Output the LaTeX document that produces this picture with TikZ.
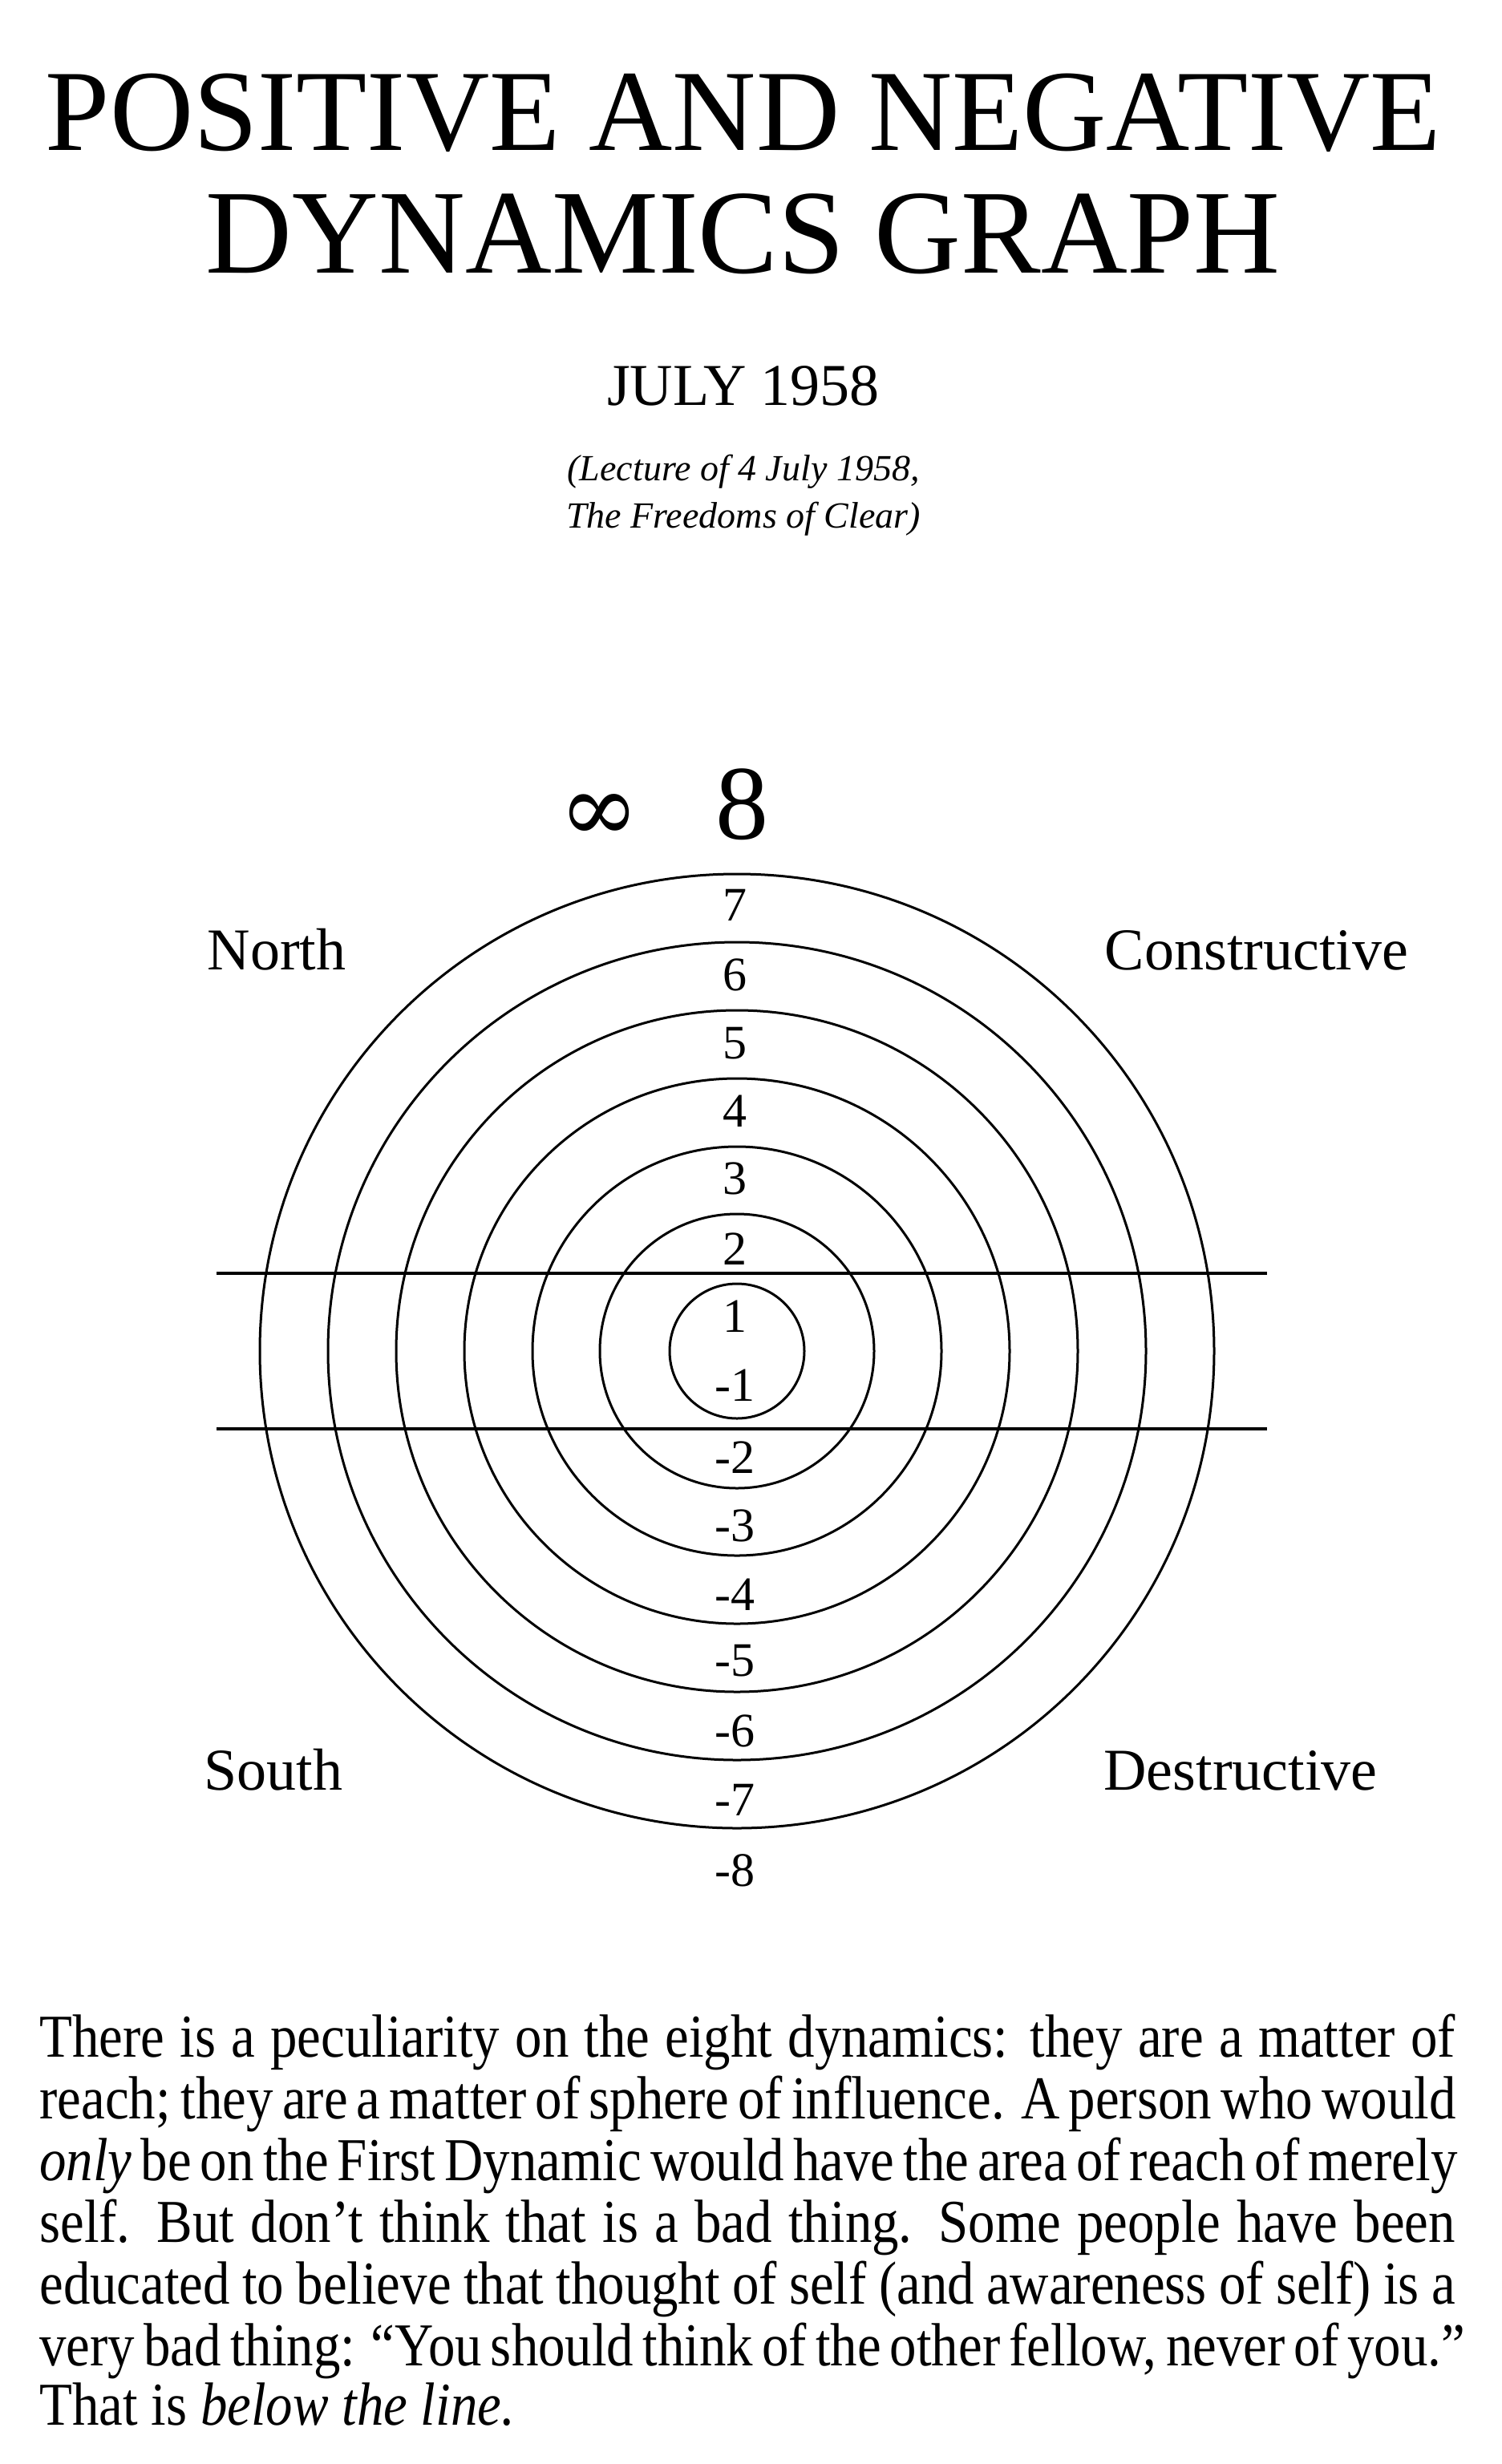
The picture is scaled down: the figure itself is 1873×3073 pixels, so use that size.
\documentclass[tikz,border=0pt]{standalone}
\usepackage{fontspec}
\usepackage{graphicx}
\setmainfont{Liberation Serif}
\newfontfamily\symf{DejaVu Serif}
\newcommand{\pline}[1]{\scalebox{0.88}[1]{\makebox[1003pt][s]{#1}}}
\begin{document}
\begin{tikzpicture}[x=0.5pt,y=-0.5pt,
  ring/.style={line width=1.5pt},
  hline/.style={line width=2pt},
  num/.style={font=\fontsize{30}{32}\selectfont, anchor=mid, inner sep=0},
  corner/.style={font=\fontsize{37}{40}\selectfont, anchor=mid, inner sep=0},
  para/.style={font=\fontsize{38}{40}\selectfont, anchor=base west, inner sep=0}]
\useasboundingbox (0,0) rectangle (1873,3073);
\node[inner sep=0, anchor=mid] (t1) at (927,183) {\resizebox{870pt}{!}{\fontsize{80}{84}\selectfont POSITIVE AND NEGATIVE}};
\node[inner sep=0, anchor=mid] (t2) at (927,336) {\resizebox{670pt}{!}{\fontsize{80}{84}\selectfont DYNAMICS GRAPH}};
\node[inner sep=0, anchor=mid, font=\fontsize{37}{40}\selectfont] (date) at (927,501) {JULY 1958};
\node[inner sep=0, anchor=mid, font=\fontsize{23}{26}\itshape] (s1) at (927,595) {(Lecture of 4 July 1958,};
\node[inner sep=0, anchor=mid, font=\fontsize{23}{26}\itshape] (s2) at (927,654) {The Freedoms of Clear)};
\node[inner sep=0, anchor=mid, font=\symf\fontsize{60}{62}\selectfont] (inf) at (747,1045) {∞};
\node[inner sep=0, anchor=mid, font=\fontsize{66}{70}\selectfont] (eight) at (925,1042) {8};
\coordinate (c) at (919,1685);
\foreach \r in {84,171,255,340,425,510,595} \draw[ring] (c) circle[radius=\r];
\draw[hline] (270,1588) -- (1580,1588);
\draw[hline] (270,1782) -- (1580,1782);
\foreach \t/\y in {7/1122,6/1209,5/1294,4/1379,3/1463,2/1551,1/1635,-1/1721,-2/1811,-3/1896,-4/1982,-5/2064,-6/2152,-7/2238,-8/2326}
  \node[num] (n\t) at (916,\y+22) {\t};
\node[corner] (north) at (345,1205) {North};
\node[corner] (cons) at (1567,1205) {Constructive};
\node[corner] (south) at (341,2228) {South};
\node[corner] (dest) at (1547,2228) {Destructive};
\node[para] (p1) at (49,2565) {\pline{There is a peculiarity on the eight dynamics: they are a matter of}};
\node[para] (p2) at (49,2642) {\pline{reach; they are a matter of sphere of influence. A person who would}};
\node[para] (p3) at (49,2719) {\pline{\textit{only} be on the First Dynamic would have the area of reach of merely}};
\node[para] (p4) at (49,2796) {\pline{self. But don’t think that is a bad thing. Some people have been}};
\node[para] (p5) at (49,2873) {\pline{educated to believe that thought of self (and awareness of self) is a}};
\node[para] (p6) at (49,2950) {\pline{very bad thing: “You should think of the other fellow, never of you.”}};
\node[para] (p7) at (49,3024) {\scalebox{0.88}[1]{That is \textit{below the line.}}};
\end{tikzpicture}
\end{document}
